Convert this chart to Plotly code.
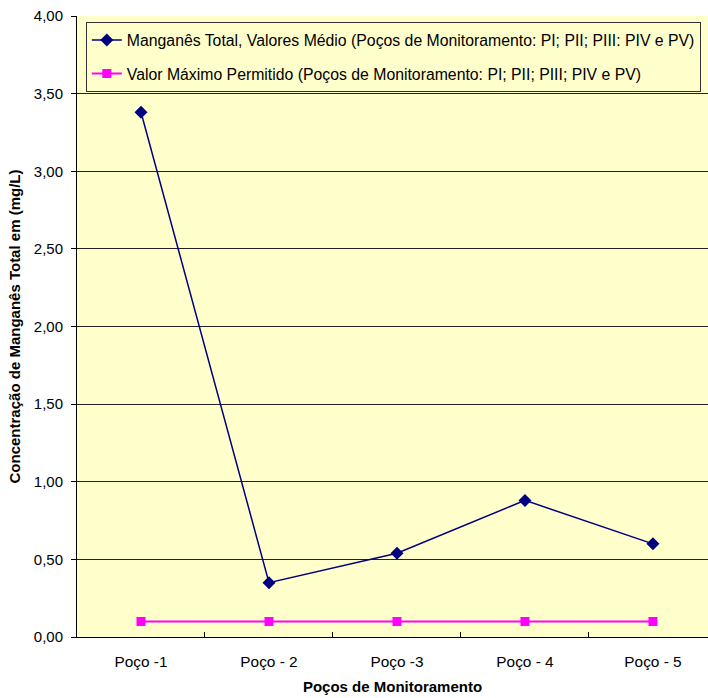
import plotly.graph_objects as go

# Monitoring wells and measured manganese concentrations (mg/L)
pocos = ["Poço -1", "Poço - 2", "Poço -3", "Poço - 4", "Poço - 5"]
manganes_medio = [3.38, 0.35, 0.54, 0.88, 0.60]
valor_maximo = [0.10, 0.10, 0.10, 0.10, 0.10]

nome_medio = "Manganês Total, Valores Médio (Poços de Monitoramento: PI; PII; PIII: PIV e PV)"
nome_maximo = "Valor Máximo Permitido (Poços de Monitoramento: PI; PII; PIII; PIV e PV)"

x_pos = list(range(len(pocos)))
fonte = "Liberation Sans, Arial, sans-serif"

fig = go.Figure()
fig.add_trace(go.Scatter(
    x=x_pos, y=manganes_medio, name=nome_medio, mode="lines+markers",
    line=dict(color="#000080", width=1.5),
    marker=dict(symbol="diamond", size=10, color="#000080"),
    legendgroup="a",
))
fig.add_trace(go.Scatter(
    x=x_pos, y=valor_maximo, name=nome_maximo, mode="lines+markers",
    line=dict(color="#FF00FF", width=2),
    marker=dict(symbol="square", size=9, color="#FF00FF"),
    legendgroup="b",
))

fig.update_layout(
    width=708, height=698,
    margin=dict(l=77, r=0, t=16, b=61, pad=0),
    paper_bgcolor="white",
    plot_bgcolor="#FFFFCC",
    font=dict(family=fonte, size=15, color="black"),
    showlegend=True,
    legend=dict(
        x=0.014, y=0.990, xanchor="left", yanchor="top",
        bgcolor="#FFFFCC", bordercolor="#333333", borderwidth=1,
        font=dict(family=fonte, size=15.8, color="black"),
        traceorder="grouped", tracegroupgap=10,
        itemwidth=30,
    ),
    xaxis=dict(
        range=[-0.5, 4.43],
        tickmode="array", tickvals=x_pos, ticktext=pocos,
        ticks="", showgrid=False, zeroline=False,
        showline=True, linecolor="black", linewidth=1,
        ticklabelstandoff=11,
        tickfont=dict(family=fonte, size=15.4),
        minor=dict(tickmode="array", tickvals=[0.5, 1.5, 2.5, 3.5],
                   ticks="inside", ticklen=5, tickcolor="black", showgrid=False),
        title=dict(text="<b>Poços de Monitoramento</b>", standoff=12,
                   font=dict(family=fonte, size=15)),
        fixedrange=True,
    ),
    yaxis=dict(
        range=[0, 4], tickmode="linear", tick0=0, dtick=0.5,
        tickformat=".2f",
        ticks="outside", ticklen=5, tickcolor="black",
        showgrid=True, gridcolor="#222222", gridwidth=1,
        zeroline=False,
        showline=True, linecolor="black", linewidth=1,
        ticklabelstandoff=5,
        tickfont=dict(family=fonte, size=15),
        title=dict(text="<b>Concentração de Manganês Total em (mg/L)</b>", standoff=9,
                   font=dict(family=fonte, size=15)),
        fixedrange=True,
    ),
    separators=",.",
)

fig.write_html("out.html")
